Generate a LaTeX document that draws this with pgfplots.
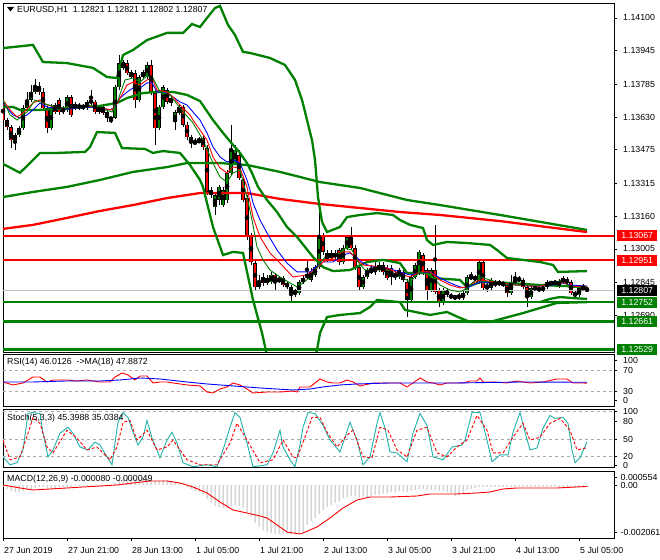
\documentclass[border=0pt]{standalone}
\usepackage{fontspec}
\setmainfont{Liberation Sans}
\usepackage{pgfplots}
\usepackage{pgfplotstable}
\pgfplotsset{compat=1.18}
\definecolor{mtgreen}{RGB}{0,128,0}
\definecolor{mtred}{RGB}{255,0,0}
\definecolor{mtblue}{RGB}{0,0,255}
\definecolor{mtgray}{RGB}{192,192,192}
\definecolor{mtdash}{RGB}{170,170,170}
\definecolor{mtteal}{RGB}{32,178,170}
\definecolor{bullc}{RGB}{0,128,0}
\definecolor{bearc}{RGB}{255,0,0}
\newcommand{\ff}{\fontsize{8.8bp}{10bp}\selectfont}

\pgfplotstableread{
i o h l c
0 1.13702 1.13711 1.13607 1.13616
1 1.13616 1.13626 1.13569 1.13583
2 1.13583 1.13593 1.13483 1.13521
3 1.13521 1.13555 1.13474 1.13545
4 1.13545 1.13588 1.13536 1.13578
5 1.13578 1.13687 1.13569 1.13673
6 1.13673 1.13749 1.13664 1.13711
7 1.13711 1.13782 1.13702 1.13749
8 1.13749 1.13811 1.13739 1.13777
9 1.13777 1.13796 1.13735 1.13749
10 1.13749 1.13768 1.13664 1.13673
11 1.13673 1.13683 1.13555 1.13578
12 1.13578 1.13692 1.13569 1.13678
13 1.13687 1.13697 1.13645 1.13654
14 1.13711 1.13720 1.13640 1.13654
15 1.13673 1.13683 1.13645 1.13654
16 1.13664 1.13735 1.13654 1.13725
17 1.13725 1.13735 1.13630 1.13640
18 1.13673 1.13702 1.13664 1.13692
19 1.13687 1.13697 1.13664 1.13673
20 1.13673 1.13692 1.13664 1.13683
21 1.13673 1.13711 1.13664 1.13702
22 1.13697 1.13758 1.13687 1.13711
23 1.13702 1.13711 1.13645 1.13654
24 1.13678 1.13687 1.13645 1.13654
25 1.13678 1.13687 1.13640 1.13649
26 1.13654 1.13664 1.13607 1.13626
27 1.13626 1.13630 1.13602 1.13621
28 1.13626 1.13782 1.13621 1.13773
29 1.13773 1.13924 1.13758 1.13886
30 1.13863 1.13901 1.13853 1.13891
31 1.13886 1.13901 1.13830 1.13839
32 1.13844 1.13853 1.13811 1.13820
33 1.13839 1.13853 1.13673 1.13711
34 1.13711 1.13830 1.13702 1.13820
35 1.13820 1.13853 1.13811 1.13844
36 1.13825 1.13891 1.13811 1.13877
37 1.13877 1.13901 1.13735 1.13744
38 1.13744 1.13758 1.13498 1.13578
39 1.13578 1.13687 1.13569 1.13678
40 1.13678 1.13782 1.13668 1.13773
41 1.13758 1.13768 1.13692 1.13702
42 1.13720 1.13735 1.13683 1.13697
43 1.13607 1.13664 1.13569 1.13654
44 1.13649 1.13687 1.13640 1.13678
45 1.13678 1.13687 1.13583 1.13593
46 1.13593 1.13607 1.13521 1.13536
47 1.13536 1.13545 1.13483 1.13507
48 1.13512 1.13531 1.13498 1.13507
49 1.13512 1.13536 1.13507 1.13521
50 1.13531 1.13545 1.13474 1.13488
51 1.13483 1.13498 1.13261 1.13275
52 1.13284 1.13299 1.13246 1.13261
53 1.13204 1.13270 1.13166 1.13261
54 1.13237 1.13308 1.13213 1.13299
55 1.13213 1.13299 1.13204 1.13284
56 1.13237 1.13379 1.13223 1.13365
57 1.13365 1.13593 1.13356 1.13474
58 1.13412 1.13498 1.13403 1.13474
59 1.13450 1.13474 1.13332 1.13341
60 1.13332 1.13341 1.13228 1.13237
61 1.13246 1.13261 1.13047 1.13062
62 1.13071 1.13081 1.12929 1.12943
63 1.12938 1.12953 1.12810 1.12825
64 1.12825 1.12882 1.12815 1.12848
65 1.12872 1.12891 1.12829 1.12844
66 1.12844 1.12882 1.12834 1.12867
67 1.12848 1.12896 1.12839 1.12882
68 1.12882 1.12891 1.12810 1.12848
69 1.12863 1.12877 1.12844 1.12853
70 1.12867 1.12877 1.12825 1.12834
71 1.12844 1.12853 1.12815 1.12825
72 1.12825 1.12834 1.12749 1.12796
73 1.12806 1.12815 1.12777 1.12796
74 1.12796 1.12858 1.12787 1.12848
75 1.12848 1.12877 1.12839 1.12867
76 1.12872 1.12953 1.12863 1.12882
77 1.12858 1.12915 1.12848 1.12896
78 1.12882 1.12929 1.12872 1.12919
79 1.12919 1.13213 1.12910 1.13071
80 1.13071 1.13081 1.12976 1.12991
81 1.12986 1.13000 1.12943 1.12953
82 1.12962 1.13000 1.12953 1.12986
83 1.12986 1.13000 1.12953 1.12967
84 1.13000 1.13009 1.12929 1.12943
85 1.12943 1.13024 1.12934 1.13009
86 1.13009 1.13071 1.13000 1.13062
87 1.13062 1.13109 1.13000 1.13009
88 1.13009 1.13024 1.12905 1.12919
89 1.12919 1.12929 1.12810 1.12825
90 1.12825 1.12882 1.12815 1.12872
91 1.12872 1.12915 1.12863 1.12905
92 1.12896 1.12929 1.12886 1.12905
93 1.12896 1.12943 1.12882 1.12915
94 1.12905 1.12943 1.12896 1.12929
95 1.12929 1.12943 1.12882 1.12896
96 1.12915 1.12929 1.12858 1.12867
97 1.12915 1.12929 1.12834 1.12872
98 1.12882 1.12905 1.12858 1.12877
99 1.12872 1.12915 1.12863 1.12905
100 1.12896 1.12905 1.12848 1.12858
101 1.12848 1.12863 1.12682 1.12763
102 1.12763 1.12882 1.12749 1.12872
103 1.12872 1.12938 1.12863 1.12929
104 1.12891 1.13000 1.12882 1.12991
105 1.12976 1.12986 1.12882 1.12896
106 1.12905 1.12915 1.12763 1.12810
107 1.12810 1.12915 1.12801 1.12905
108 1.12905 1.13119 1.12791 1.12801
109 1.12810 1.12820 1.12730 1.12749
110 1.12749 1.12820 1.12739 1.12810
111 1.12810 1.12820 1.12777 1.12787
112 1.12787 1.12796 1.12768 1.12777
113 1.12777 1.12787 1.12763 1.12777
114 1.12772 1.12796 1.12763 1.12787
115 1.12772 1.12810 1.12763 1.12796
116 1.12796 1.12882 1.12787 1.12872
117 1.12872 1.12896 1.12858 1.12867
118 1.12867 1.12882 1.12853 1.12867
119 1.12848 1.12953 1.12839 1.12943
120 1.12943 1.12953 1.12810 1.12820
121 1.12834 1.12844 1.12801 1.12820
122 1.12820 1.12867 1.12810 1.12858
123 1.12834 1.12858 1.12825 1.12848
124 1.12844 1.12858 1.12829 1.12844
125 1.12844 1.12853 1.12825 1.12834
126 1.12834 1.12844 1.12777 1.12796
127 1.12796 1.12882 1.12787 1.12848
128 1.12848 1.12896 1.12839 1.12858
129 1.12858 1.12877 1.12848 1.12863
130 1.12858 1.12867 1.12815 1.12825
131 1.12825 1.12834 1.12730 1.12777
132 1.12777 1.12829 1.12768 1.12820
133 1.12815 1.12834 1.12806 1.12825
134 1.12820 1.12829 1.12801 1.12810
135 1.12810 1.12834 1.12801 1.12825
136 1.12825 1.12858 1.12815 1.12848
137 1.12844 1.12853 1.12834 1.12844
138 1.12844 1.12858 1.12834 1.12848
139 1.12829 1.12863 1.12820 1.12853
140 1.12848 1.12877 1.12839 1.12867
141 1.12863 1.12872 1.12834 1.12844
142 1.12848 1.12858 1.12787 1.12796
143 1.12796 1.12806 1.12772 1.12787
144 1.12787 1.12829 1.12777 1.12820
145 1.12815 1.12839 1.12806 1.12825
146 1.12821 1.12821 1.12802 1.12807
}\candles

\pgfplotsset{
  mtpanel/.style={
    scale only axis, width=611bp, xmin=0, xmax=152.75, anchor=south west,
    axis line style={black, line width=0.9bp},
    tick style={black, line width=0.7bp},
    xtick=\empty, scaled y ticks=false, scaled x ticks=false,
    ytick pos=right, yticklabel pos=right,
    tick align=outside, major tick length=3bp,
    yticklabel style={font=\ff, anchor=west, inner sep=0pt, xshift=6bp},
    clip=true,
  },
  wick/.style={only marks, mark=none, forget plot,
    error bars/.cd, y dir=both, y explicit, error mark=none,
    error bar style={draw=black, line width=1bp}},
}
\tikzset{lbl/.style={anchor=west, inner sep=0pt, minimum width=40bp, minimum height=11bp, text=white, font=\ff}}

\begin{document}
\begin{tikzpicture}[x=1bp,y=1bp]
\fill[white] (0,0) rectangle (660,560);
\path[use as bounding box] (0,0) rectangle (660,560);

% ================= MAIN PRICE PANEL =================
\begin{axis}[mtpanel, at={(3bp,208bp)}, height=349bp,
  ymin=1.125165, ymax=1.141708,
  ytick={1.14100,1.13945,1.13785,1.13630,1.13475,1.13315,1.13160,1.13005,1.12845,1.12690},
  yticklabels={1.14100,1.13945,1.13785,1.13630,1.13475,1.13315,1.13160,1.13005,1.12845,1.12690}]

\addplot[wick] table[x=i, y expr={(\thisrow{h}+\thisrow{l})/2}, y error expr={(\thisrow{h}-\thisrow{l})/2}] {\candles};
\addplot[only marks, mark=none, forget plot, restrict expr to domain={\thisrow{c}-\thisrow{o}}{0:1},
  error bars/.cd, y dir=both, y explicit, error mark=none,
  error bar style={draw=black, line width=3.2bp}]
  table[x=i, y expr={(\thisrow{o}+\thisrow{c})/2}, y error expr={max(abs(\thisrow{c}-\thisrow{o})/2,0.000024)}] {\candles};
\addplot[only marks, mark=none, forget plot, restrict expr to domain={\thisrow{c}-\thisrow{o}}{0:1},
  error bars/.cd, y dir=both, y explicit, error mark=none,
  error bar style={draw=bullc, line width=1.4bp}]
  table[x=i, y expr={(\thisrow{o}+\thisrow{c})/2}, y error expr={max(abs(\thisrow{c}-\thisrow{o})/2-0.000024,0)}] {\candles};
\addplot[only marks, mark=none, forget plot, restrict expr to domain={\thisrow{c}-\thisrow{o}}{-1:0},
  error bars/.cd, y dir=both, y explicit, error mark=none,
  error bar style={draw=black, line width=3.2bp}]
  table[x=i, y expr={(\thisrow{o}+\thisrow{c})/2}, y error expr={max(abs(\thisrow{c}-\thisrow{o})/2,0.000024)}] {\candles};
\addplot[only marks, mark=none, forget plot, restrict expr to domain={\thisrow{c}-\thisrow{o}}{-1:0},
  error bars/.cd, y dir=both, y explicit, error mark=none,
  error bar style={draw=bearc, line width=1.4bp}]
  table[x=i, y expr={(\thisrow{o}+\thisrow{c})/2}, y error expr={max(abs(\thisrow{c}-\thisrow{o})/2-0.000024,0)}] {\candles};

\addplot[mtgray, line width=0.9bp] coordinates {(0,1.12807) (152.75,1.12807)};
\addplot[mtred, line width=2.3bp] coordinates {(0,1.13067) (152.75,1.13067)};
\addplot[mtred, line width=2.3bp] coordinates {(0,1.12951) (152.75,1.12951)};
\addplot[mtgreen, line width=2.3bp] coordinates {(0,1.12752) (152.75,1.12752)};
\addplot[mtgreen, line width=2.3bp] coordinates {(0,1.12661) (152.75,1.12661)};
\addplot[mtgreen, line width=2.3bp] coordinates {(0,1.12529) (152.75,1.12529)};

% long moving averages
\addplot[mtgreen, line width=2.3bp] coordinates {(0,1.13251) (7.5,1.13275) (16,1.13299) (24.25,1.13332) (32.5,1.13370) (41,1.13393) (46,1.13412) (54.25,1.13412) (61,1.13403) (69.25,1.13370) (79.25,1.13322) (89.25,1.13294) (101,1.13237) (109.25,1.13213) (124.25,1.13166) (146,1.13095)};
\addplot[mtred, line width=2.3bp] coordinates {(0,1.13100) (7.5,1.13119) (16,1.13152) (24.25,1.13185) (32.5,1.13213) (41,1.13246) (49.25,1.13270) (61,1.13270) (69.25,1.13242) (79.25,1.13218) (89.25,1.13199) (99.25,1.13180) (109.25,1.13166) (124.25,1.13137) (146,1.13085)};

% Bollinger bands
\addplot[mtgreen, line width=2.3bp] coordinates {(0,1.13957) (7.5,1.13972) (10,1.13891) (16,1.13886) (22.5,1.13863) (26,1.13820) (28.5,1.13815) (30,1.13924) (32.5,1.13948) (36,1.13995) (41,1.14029) (45,1.14029) (47.25,1.14071) (49.25,1.14057) (51,1.14100) (53,1.14147) (54.25,1.14157) (56.25,1.14067) (58,1.14019) (60,1.13939) (61.75,1.13934) (66.75,1.13910) (70.5,1.13877) (73,1.13806) (74.75,1.13711) (76,1.13616) (77.25,1.13521) (78,1.13427) (78.75,1.13251) (79.75,1.13133) (81,1.13085) (84.25,1.13109) (86,1.13156) (89.25,1.13166) (93.5,1.13175) (97.5,1.13166) (99.25,1.13142) (101.75,1.13119) (105,1.13104) (106,1.13047) (107.5,1.13024) (111,1.13038) (116,1.13033) (121.75,1.13024) (123.5,1.13000) (126,1.12962) (134.25,1.12943) (137.5,1.12929) (138.75,1.12896) (146,1.12900)};
\addplot[mtgreen, line width=2.3bp] coordinates {(0,1.13678) (2.5,1.13678) (4.25,1.13664) (9.25,1.13664) (16.75,1.13673) (24.25,1.13683) (28.5,1.13697) (31,1.13720) (35,1.13744) (38.5,1.13749) (42.5,1.13749) (46,1.13735) (49.25,1.13706) (52.5,1.13616) (55,1.13555) (57.5,1.13498) (59.25,1.13460) (61,1.13412) (62.25,1.13365) (63.75,1.13299) (66,1.13237) (68.5,1.13180) (71,1.13109) (73.5,1.13062) (75.5,1.13014) (77.5,1.12967) (80,1.12919) (82.5,1.12900) (86.75,1.12905) (91,1.12943) (95,1.12953) (99.25,1.12938) (101,1.12891) (106,1.12891) (107.5,1.12867) (114.25,1.12858) (116,1.12825) (119.25,1.12848) (126,1.12844) (134.25,1.12834) (146,1.12825)};
\addplot[mtgreen, line width=2.3bp] coordinates {(0,1.13408) (4.25,1.13366) (6.75,1.13412) (9.25,1.13460) (13.5,1.13460) (20.5,1.13465) (21.75,1.13488) (23.5,1.13559) (28,1.13555) (29.75,1.13483) (35.5,1.13479) (37.5,1.13460) (40,1.13469) (44.25,1.13460) (46.75,1.13403) (49.25,1.13332) (50,1.13299) (51.25,1.13204) (52.5,1.13109) (55,1.12976) (57.5,1.12991) (60,1.12986) (62.5,1.12763) (64.75,1.12607) (66.25,1.12479) (68,1.12289) (76.75,1.12289) (77.75,1.12479) (78.5,1.12526) (79.25,1.12607) (81,1.12682) (84.25,1.12692) (89.25,1.12701) (91.75,1.12730) (93.5,1.12763) (99.25,1.12753) (100.5,1.12716) (106.75,1.12692) (111,1.12706) (114.25,1.12678) (116.75,1.12659) (121.75,1.12659) (130,1.12701) (138.5,1.12749) (146,1.12753)};
\addplot[mtgreen, line width=2.3bp] coordinates {(134.25,1.12753) (136.75,1.12768) (139.25,1.12777) (142.5,1.12772) (146,1.12768)};

% fast moving averages
\addplot[mtblue, line width=0.9bp] coordinates {(0,1.13697) (1,1.13673) (2.5,1.13640) (4.25,1.13626) (6,1.13640) (7.5,1.13664) (9.25,1.13697) (11,1.13678) (12.5,1.13673) (16,1.13668) (21,1.13678) (24.25,1.13673) (26.75,1.13664) (28,1.13678) (29.25,1.13720) (31,1.13749) (32.5,1.13768) (34.25,1.13768) (36,1.13792) (37.25,1.13792) (38.5,1.13749) (41,1.13744) (42.5,1.13725) (44.25,1.13702) (46,1.13687) (47.5,1.13654) (49.25,1.13616) (51,1.13555) (52.5,1.13488) (54.25,1.13441) (56,1.13417) (57.5,1.13427) (59.25,1.13412) (61,1.13332) (61.75,1.13284) (62.5,1.13223) (64.25,1.13142) (66,1.13081) (68.5,1.13000) (71,1.12938) (73.5,1.12896) (76.75,1.12896) (78.5,1.12924) (80,1.12943) (82.5,1.12943) (85,1.12976) (86.75,1.12986) (88.5,1.12962) (90,1.12938) (92.5,1.12919) (96,1.12915) (99.25,1.12896) (101.75,1.12882) (104.25,1.12891) (106.75,1.12896) (109.25,1.12867) (111.75,1.12844) (114.25,1.12825) (116,1.12820) (117.5,1.12834) (119.25,1.12848) (123.5,1.12844) (126,1.12839) (131,1.12829) (134.25,1.12829) (137.5,1.12834) (140,1.12844) (141.75,1.12834) (146,1.12829)};
\addplot[mtred, line width=0.9bp] coordinates {(0,1.13711) (1.75,1.13664) (3.5,1.13630) (5,1.13649) (7.5,1.13697) (9.25,1.13711) (11,1.13687) (14.25,1.13673) (21,1.13683) (24.25,1.13673) (27.25,1.13664) (28.75,1.13702) (31,1.13782) (32.5,1.13796) (34.25,1.13782) (36,1.13806) (37.25,1.13815) (38.5,1.13758) (41,1.13749) (42.5,1.13725) (44.25,1.13687) (46.75,1.13640) (47.5,1.13616) (51,1.13521) (52.5,1.13441) (54.25,1.13389) (56,1.13365) (57.5,1.13393) (59.25,1.13389) (61,1.13299) (62.5,1.13156) (64.25,1.13062) (66.75,1.12986) (69.25,1.12938) (72.5,1.12872) (76,1.12882) (78.5,1.12915) (80,1.12943) (82.5,1.12962) (85,1.12991) (86.75,1.12991) (88.5,1.12953) (90,1.12929) (92.5,1.12924) (96,1.12915) (99.25,1.12886) (101.75,1.12872) (104.25,1.12896) (106.75,1.12896) (109.25,1.12858) (111.75,1.12834) (114.25,1.12820) (116,1.12825) (117.5,1.12844) (119.25,1.12858) (123.5,1.12848) (126,1.12839) (131,1.12829) (134.25,1.12829) (137.5,1.12839) (140,1.12848) (141.75,1.12829) (146,1.12825)};
\addplot[mtgreen, line width=0.9bp] coordinates {(0,1.13711) (1.75,1.13640) (3.5,1.13616) (6,1.13654) (8,1.13711) (10.5,1.13692) (14.25,1.13673) (21,1.13687) (24.25,1.13673) (27.25,1.13654) (28.75,1.13711) (30.5,1.13806) (32.5,1.13815) (34.25,1.13796) (36,1.13825) (37.5,1.13815) (39.25,1.13749) (41.75,1.13735) (44.25,1.13673) (47.5,1.13602) (50,1.13521) (52.5,1.13412) (54.25,1.13346) (56,1.13322) (57.5,1.13365) (59.25,1.13379) (61,1.13251) (62.25,1.13142) (63.5,1.13014) (65,1.12953) (66.75,1.12905) (69.25,1.12872) (71.75,1.12844) (73.5,1.12825) (75,1.12844) (77.5,1.12882) (79.25,1.12938) (81,1.12976) (83.5,1.12976) (85.5,1.13009) (87.25,1.13000) (88.75,1.12943) (90.5,1.12905) (93,1.12905) (96,1.12905) (99.25,1.12877) (101.75,1.12848) (104.25,1.12896) (106.75,1.12882) (109.25,1.12834) (111.75,1.12810) (114.25,1.12801) (116,1.12820) (117.5,1.12848) (119.25,1.12872) (123.5,1.12848) (126,1.12834) (131,1.12834) (134.25,1.12834) (137.5,1.12844) (140,1.12858) (141.75,1.12825) (146,1.12820)};

\coordinate (pA) at (axis cs:152.75,1.13067);
\coordinate (pB) at (axis cs:152.75,1.12951);
\coordinate (pC) at (axis cs:152.75,1.12807);
\coordinate (pD) at (axis cs:152.75,1.12752);
\coordinate (pE) at (axis cs:152.75,1.12661);
\coordinate (pF) at (axis cs:152.75,1.12529);
\end{axis}

% ================= RSI PANEL =================
\begin{axis}[mtpanel, at={(3bp,153.5bp)}, height=52.5bp, ymin=1.8, ymax=101.8,
  ytick={90.4,70,30,12.9}, yticklabels={100,70,30,0}]
\addplot[mtdash, line width=0.8bp, dash pattern=on 3bp off 3bp] coordinates {(0,70) (152.75,70)};
\addplot[mtdash, line width=0.8bp, dash pattern=on 3bp off 3bp] coordinates {(0,30) (152.75,30)};
\addplot[mtred, line width=0.9bp] coordinates {(0,48.5) (2.5,42.8) (5,46.6) (7.5,58.0) (9.25,58.0) (11,48.5) (12.5,52.3) (16,52.3) (18.5,50.4) (21,52.3) (24.25,48.5) (26.75,48.5) (28,58.0) (29.75,65.6) (31.25,61.8) (33,52.3) (34.25,59.9) (36,59.9) (37.5,46.6) (39.25,48.5) (41,48.5) (42.5,46.6) (46,42.8) (49.25,40.9) (51,29.4) (52.5,27.5) (54.25,35.1) (56,39.0) (57.5,46.6) (59.25,42.8) (61,35.1) (62.5,27.5) (66,29.4) (69.25,29.4) (72.5,31.3) (73.5,29.4) (74.25,39.0) (76.75,39.0) (79.25,54.2) (81,48.5) (82.5,46.6) (84.25,46.6) (86,52.3) (87.5,48.5) (89.25,40.9) (92.5,46.6) (94.25,46.6) (96.75,46.6) (99.25,46.6) (101,39.0) (102.5,46.6) (104.25,56.1) (106,48.5) (107.5,46.6) (109.25,42.8) (111,46.6) (115,46.6) (116.75,50.4) (118.5,50.4) (119.25,56.1) (120,48.5) (122.5,48.5) (126,46.6) (128.5,50.4) (130,48.5) (131.75,46.6) (135,48.5) (138.5,54.2) (141,54.2) (142.5,46.6) (145,46.6) (146,46.0)};
\addplot[mtblue, line width=0.9bp] coordinates {(0,48.5) (7.5,48.5) (16,50.4) (24.25,50.4) (29.25,52.3) (34.25,56.1) (39.25,54.2) (46,48.5) (51,44.7) (57.5,40.9) (64.25,37.1) (72.5,33.2) (76.75,35.1) (80,39.0) (84.25,42.8) (88.5,44.7) (96.75,46.6) (113.5,46.6) (130,48.5) (146,47.9)};
\end{axis}

% ================= STOCHASTIC PANEL =================
\begin{axis}[mtpanel, at={(3bp,92.5bp)}, height=58.5bp, ymin=-0.5, ymax=104.5,
  ytick={100,81.5,50,20,3.5}, yticklabels={100,80,50,20,0}]
\addplot[mtdash, line width=0.8bp, dash pattern=on 3bp off 3bp] coordinates {(0,100) (152.75,100)};
\addplot[mtdash, line width=0.8bp, dash pattern=on 3bp off 3bp] coordinates {(0,50) (152.75,50)};
\addplot[mtdash, line width=0.8bp, dash pattern=on 3bp off 3bp] coordinates {(0,20) (152.75,20)};
\addplot[mtteal, line width=0.9bp] coordinates {(0,18.6) (1.75,4.4) (3.5,8.0) (5,31.0) (6.25,96.5) (7.25,98.2) (9.25,96.5) (10,61.1) (11.25,18.6) (12.5,31.0) (14.25,61.1) (16.25,71.7) (17.5,61.1) (19.25,36.3) (21.25,31.0) (23,45.1) (24.25,39.8) (26,18.6) (27.25,4.4) (28,43.4) (28.75,80.5) (30,98.2) (31.25,89.4) (32.5,62.8) (33.75,39.8) (35,54.0) (36,84.1) (37.25,52.2) (39.25,16.8) (41,48.7) (42.25,62.8) (43.5,43.4) (45,8.0) (47.5,0.9) (51,4.4) (53.5,0.9) (55,31.0) (56.75,71.7) (58,98.2) (59.25,89.4) (61,43.4) (62.5,0.9) (66,4.4) (67.5,25.7) (69.25,66.4) (70,36.3) (71.75,13.3) (73,0.9) (74.25,39.8) (75,71.7) (76.25,98.2) (78,96.5) (80,75.2) (81.75,48.7) (84.25,27.4) (85.5,54.0) (86.75,80.5) (88.5,48.7) (90,4.4) (91.75,18.6) (93.5,78.8) (94.25,98.2) (95.5,69.9) (96.75,27.4) (98.5,25.7) (101,9.7) (102.5,61.1) (104.25,96.5) (106,75.2) (107.5,18.6) (110,13.3) (112.25,36.3) (114.75,39.8) (115.5,48.7) (117.25,98.2) (119.25,98.2) (121,48.7) (122.25,9.7) (124.25,22.1) (126.25,22.1) (127.5,62.8) (129.25,98.2) (130.5,62.8) (131.75,31.0) (133.5,34.5) (135,69.9) (136.75,92.9) (138,87.6) (140,89.4) (141.25,78.8) (142.25,31.0) (143,8.0) (144.25,16.8) (146,45.4)};
\addplot[mtred, line width=0.9bp, dash pattern=on 3bp off 2bp] coordinates {(0,48.7) (1.75,13.3) (4.25,18.6) (6.75,71.7) (7.5,89.4) (9.25,78.8) (11,36.3) (12.5,25.7) (16,66.4) (18.5,52.2) (21,31.0) (23.5,36.3) (26.75,13.3) (28.5,36.3) (30,80.5) (31.75,84.1) (33.5,48.7) (36,66.4) (38.5,31.0) (41,36.3) (42.5,48.7) (46,13.3) (49.25,4.4) (53.5,4.4) (56.75,43.4) (58.5,78.8) (61,48.7) (64.25,8.0) (67.5,13.3) (70,48.7) (72.5,18.6) (73.5,16.8) (75.5,54.0) (77.25,89.4) (79.25,89.4) (81,62.8) (83.5,36.3) (86,57.5) (87.5,66.4) (90,18.6) (92.25,16.8) (94.25,71.7) (96.25,66.4) (98.5,31.0) (101,18.6) (103.5,66.4) (106,71.7) (108.5,25.7) (111,18.6) (113.5,36.3) (116,48.7) (118.5,92.9) (121,66.4) (122.5,25.7) (125,25.7) (127.5,54.0) (130,78.8) (131.75,48.7) (134.25,54.0) (136.75,78.8) (139.25,87.6) (141.75,66.4) (143.5,31.0) (146,35.0)};
\end{axis}

% ================= MACD PANEL =================
\begin{axis}[mtpanel, at={(3bp,22bp)}, height=67bp, ymin=-0.002061, ymax=0.000554,
  ytick={0.000308,0,-0.001854}, yticklabels={0.000554,0.00,-0.002061},
  yticklabel style={xshift=-2.5bp},
  xtick={0,16,32,48,64,80,96,112,128,144},
  xticklabels={27 Jun 2019,27 Jun 21:00,28 Jun 13:00,1 Jul 05:00,1 Jul 21:00,2 Jul 13:00,3 Jul 05:00,3 Jul 21:00,4 Jul 13:00,5 Jul 05:00},
  xtick pos=left, xticklabel pos=left,
  xticklabel style={font=\ff, anchor=north west, inner sep=0pt, xshift=1bp, yshift=-6bp}]
\addplot[ybar, bar width=1bp, fill=mtgray, draw=none] coordinates {
(0,-0.000070) (1,-0.000148) (2,-0.000226) (3,-0.000265) (4,-0.000265) (5,-0.000226) (6,-0.000187) (7,-0.000148) (8,-0.000109) (9,-0.000070)
(10,-0.000070) (11,-0.000109) (12,-0.000109) (13,-0.000109) (14,-0.000070) (15,-0.000070) (16,-0.000070) (17,-0.000070) (18,-0.000031) (19,-0.000031)
(20,-0.000031) (21,-0.000031) (22,-0.000031) (23,-0.000031) (24,-0.000031) (25,0.000008) (26,0.000008) (27,0.000008) (28,0.000086) (29,0.000203)
(30,0.000281) (31,0.000281) (32,0.000281) (33,0.000242) (34,0.000242) (35,0.000281) (36,0.000281) (37,0.000242) (38,0.000164) (39,0.000164)
(40,0.000203) (41,0.000203) (42,0.000164) (43,0.000125) (44,0.000086) (45,0.000008) (46,-0.000070) (47,-0.000148) (48,-0.000226) (49,-0.000265)
(50,-0.000343) (51,-0.000539) (52,-0.000695) (53,-0.000812) (54,-0.000851) (55,-0.000890) (56,-0.000890) (57,-0.000812) (58,-0.000773) (59,-0.000812)
(60,-0.000890) (61,-0.001046) (62,-0.001241) (63,-0.001475) (64,-0.001631) (65,-0.001749) (66,-0.001827) (67,-0.001866) (68,-0.001905) (69,-0.001905)
(70,-0.001905) (71,-0.001905) (72,-0.001905) (73,-0.001905) (74,-0.001866) (75,-0.001827) (76,-0.001553) (77,-0.001397) (78,-0.001280) (79,-0.001124)
(80,-0.000968) (81,-0.000851) (82,-0.000773) (83,-0.000695) (84,-0.000617) (85,-0.000500) (86,-0.000461) (87,-0.000422) (88,-0.000422) (89,-0.000461)
(90,-0.000461) (91,-0.000461) (92,-0.000422) (93,-0.000382) (94,-0.000382) (95,-0.000343) (96,-0.000304) (97,-0.000265) (98,-0.000265) (99,-0.000226)
(100,-0.000226) (101,-0.000265) (102,-0.000226) (103,-0.000187) (104,-0.000148) (105,-0.000148) (106,-0.000187) (107,-0.000187) (108,-0.000187) (109,-0.000226)
(110,-0.000226) (111,-0.000265) (112,-0.000304) (113,-0.000422) (114,-0.000382) (115,-0.000304) (116,-0.000187) (117,-0.000148) (118,-0.000109) (119,-0.000070)
(120,-0.000070) (121,-0.000070) (122,-0.000070) (123,-0.000070) (124,-0.000070) (125,-0.000070) (126,-0.000070) (127,-0.000070) (128,-0.000070) (129,-0.000070)
(130,-0.000070) (131,-0.000070) (132,-0.000070) (133,-0.000070) (134,-0.000070) (135,-0.000070) (136,-0.000070) (137,-0.000070) (138,-0.000070) (139,-0.000070)
(140,-0.000070) (141,-0.000070) (142,-0.000070) (143,-0.000080) (144,-0.000080) (145,-0.000080) (146,-0.000080)};
\addplot[mtred, line width=0.9bp] coordinates {(0,0.000008) (4.25,-0.000109) (7.5,-0.000187) (11.75,-0.000148) (16,-0.000109) (20,-0.000070) (24.25,-0.000031) (28.5,0.000008) (32.5,0.000086) (36.75,0.000164) (41,0.000164) (44.25,0.000086) (47.5,-0.000070) (51,-0.000304) (54.25,-0.000656) (57.5,-0.000968) (61,-0.001085) (64.25,-0.001202) (66,-0.001280) (68.5,-0.001553) (71,-0.001827) (74.25,-0.001905) (75,-0.001866) (78.5,-0.001631) (81.75,-0.001280) (85,-0.000890) (88.5,-0.000578) (91.75,-0.000461) (96.75,-0.000461) (103.5,-0.000422) (106.75,-0.000343) (113.5,-0.000343) (118.5,-0.000304) (121.75,-0.000265) (125,-0.000148) (128.5,-0.000109) (138.5,-0.000109) (146,-0.000049)};
\end{axis}

% ================= TEXT OVERLAYS =================
\fill[black] (7,553) -- (14,553) -- (10.5,548.5) -- cycle;
\node[anchor=west, inner sep=0pt, font=\ff] at (17,550) {EURUSD,H1\ \ 1.12821 1.12821 1.12802 1.12807};
\node[anchor=west, inner sep=0pt, font=\ff] at (7,197.5) {RSI(14) 46.0126\ \ ->MA(18) 47.8872};
\node[anchor=west, inner sep=0pt, font=\ff] at (7,142) {Stoch(5,3,3) 45.3988 35.0384};
\node[anchor=west, inner sep=0pt, font=\ff] at (7,81) {MACD(12,26,9) -0.000080 -0.000049};

\node[lbl, fill=mtred] at ([xshift=3bp]pA) {1.13067};
\node[lbl, fill=mtred] at ([xshift=3bp]pB) {1.12951};
\node[lbl, fill=black] at ([xshift=3bp]pC) {1.12807};
\node[lbl, fill=mtgreen] at ([xshift=3bp]pD) {1.12752};
\node[lbl, fill=mtgreen] at ([xshift=3bp]pE) {1.12661};
\node[lbl, fill=mtgreen] at ([xshift=3bp]pF) {1.12529};
\end{tikzpicture}
\end{document}
